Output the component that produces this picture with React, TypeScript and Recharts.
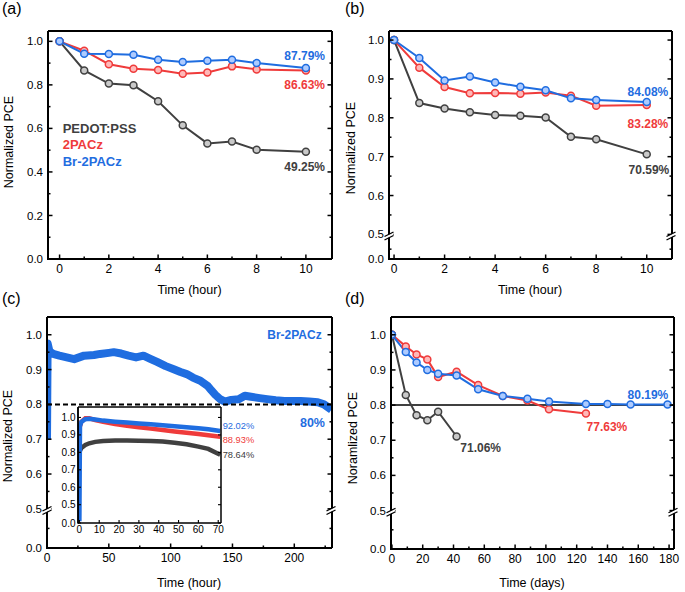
import React from 'react';
import { LineChart, Line, XAxis, YAxis, ReferenceLine } from 'recharts';

const FONT = '"Liberation Sans", Arial, Helvetica, sans-serif';
const GRAY = '#404040';
const RED = '#ef3b3b';
const BLUE = '#1f6de0';
const GRAY_L = '#c9c9c9';
const RED_L = '#ffb8b8';
const BLUE_L = '#aecbff';

// ---------- data ----------
const A_X = [0, 1, 2, 3, 4, 5, 6, 7, 8, 10];
const A_PEDOT = [1.0, 0.866, 0.806, 0.798, 0.725, 0.614, 0.531, 0.54, 0.502, 0.4925];
const A_2PACZ = [1.0, 0.957, 0.895, 0.874, 0.868, 0.851, 0.857, 0.885, 0.871, 0.8663];
const A_BR = [1.0, 0.943, 0.942, 0.938, 0.915, 0.905, 0.911, 0.915, 0.9, 0.8779];

const B_X = [0, 1, 2, 3, 4, 5, 6, 7, 8, 10];
const B_PEDOT = [1.0, 0.838, 0.824, 0.814, 0.807, 0.805, 0.801, 0.751, 0.745, 0.7059];
const B_2PACZ = [1.0, 0.929, 0.879, 0.863, 0.864, 0.862, 0.865, 0.857, 0.831, 0.8328];
const B_BR = [1.0, 0.954, 0.896, 0.906, 0.891, 0.88, 0.871, 0.85, 0.846, 0.8408];

const C_T = [0, 0.5, 2, 5, 10, 16, 22, 30, 38, 43, 50, 54, 60, 66, 72, 78, 84, 89, 96, 103, 108, 113, 118, 124, 130, 133, 136, 140, 144, 149, 155, 160, 165, 172, 178, 185, 192, 198, 205, 212, 219, 224, 228, 230];
const C_BR = [0.7, 0.975, 0.952, 0.945, 0.94, 0.935, 0.93, 0.94, 0.942, 0.945, 0.948, 0.95, 0.946, 0.94, 0.935, 0.94, 0.93, 0.922, 0.91, 0.9, 0.893, 0.887, 0.877, 0.868, 0.853, 0.84, 0.828, 0.815, 0.808, 0.813, 0.815, 0.825, 0.822, 0.818, 0.815, 0.812, 0.81, 0.81, 0.81, 0.808, 0.806, 0.8, 0.79, 0.785];

const IN_T = [0, 0.3, 1, 3, 5, 8, 12, 18, 24, 30, 36, 42, 48, 54, 60, 65, 71];
const IN_BR = [0.05, 0.95, 0.975, 0.99, 0.992, 0.988, 0.982, 0.976, 0.971, 0.966, 0.961, 0.955, 0.949, 0.944, 0.938, 0.932, 0.922];
const IN_2PACZ = [0.93, 0.95, 0.975, 0.995, 0.995, 0.985, 0.975, 0.962, 0.952, 0.944, 0.936, 0.928, 0.92, 0.913, 0.905, 0.898, 0.889];
const IN_PEDOT = [0.79, 0.81, 0.825, 0.842, 0.852, 0.86, 0.865, 0.868, 0.868, 0.867, 0.865, 0.862, 0.855, 0.846, 0.833, 0.82, 0.786];

const D_PEDOT_X = [0, 9, 16, 23, 30, 42];
const D_PEDOT = [1.0, 0.829, 0.771, 0.757, 0.781, 0.7106];
const D_2PACZ_X = [0, 9, 16, 23, 30, 42, 56, 72, 88, 102, 126];
const D_2PACZ = [1.0, 0.967, 0.944, 0.93, 0.88, 0.895, 0.857, 0.826, 0.813, 0.788, 0.7763];
const D_BR_X = [0, 9, 16, 23, 30, 42, 56, 72, 88, 102, 126, 140, 155, 179];
const D_BR = [1.0, 0.951, 0.921, 0.9, 0.889, 0.884, 0.845, 0.826, 0.818, 0.81, 0.803, 0.803, 0.802, 0.8019];

// tick values
const A_YTICKS = [0, 0.1, 0.2, 0.3, 0.4, 0.5, 0.6, 0.7, 0.8, 0.9, 1.0];
const A_YMAJ = [0, 0.2, 0.4, 0.6, 0.8, 1.0];
const HR_XTICKS = [0, 1, 2, 3, 4, 5, 6, 7, 8, 9, 10];
const HR_XMAJ = [0, 2, 4, 6, 8, 10];
const B_YTICKS = [0, 0.2, 0.5, 0.55, 0.6, 0.65, 0.7, 0.75, 0.8, 0.85, 0.9, 0.95, 1.0];
const BRK_YMAJ = [0, 0.5, 0.6, 0.7, 0.8, 0.9, 1.0];
const CD_YTICKS = [0, 0.25, 0.5, 0.55, 0.6, 0.65, 0.7, 0.75, 0.8, 0.85, 0.9, 0.95, 1.0];
const C_XTICKS = [0, 25, 50, 75, 100, 125, 150, 175, 200, 225];
const C_XMAJ = [0, 50, 100, 150, 200];
const D_XTICKS = [0, 10, 20, 30, 40, 50, 60, 70, 80, 90, 100, 110, 120, 130, 140, 150, 160, 170, 180];
const D_XMAJ = [0, 20, 40, 60, 80, 100, 120, 140, 160, 180];
const IN_YTICKS = [0, 0.5, 0.6, 0.7, 0.8, 0.9, 1.0];
const IN_XTICKS = [0, 10, 20, 30, 40, 50, 60, 70];

// ---------- broken axis transform ----------
const brk = (k: number) => (v: number) => (v >= 0.5 ? v : 0.5 - (0.5 - v) * k);
const unbrk = (k: number) => (t: number) => (t >= 0.5 ? t : 0.5 - (0.5 - t) / k);

type Geo = { dx: number; dy: number; w: number; h: number; l: number; r: number; t: number; b: number };
type Base = {
  geo: Geo; xDom: [number, number]; xTicks: number[]; xMaj: number[];
  yDom: [number, number]; yTicks: number[]; yMaj: number[]; k: number;
  fsX: number; fsY: number; xGap: number; yGap: number; majLen: number; minLen: number; lw: number; xh: number;
};
type Cfg = Base & { yT: number[]; tickL: (p: any) => any; tickR: (p: any) => any; tickX: (p: any) => any };

const near = (a: number[], v: number) => a.some((m) => Math.abs(m - v) < 1e-6);

const mkYTick = (side: 'left' | 'right', c: Base) => (p: any) => {
  let v = unbrk(c.k)(p.payload.value);
  if (Math.abs(v) < 1e-9) v = 0;
  const maj = near(c.yMaj, v);
  const len = maj ? c.majLen : c.minLen;
  const dir = side === 'left' ? 1 : -1;
  return (
    <g>
      <line x1={p.x} x2={p.x + dir * len} y1={p.y} y2={p.y} stroke="#000" strokeWidth={c.lw * 0.75} />
      {side === 'left' && maj ? (
        <text x={p.x - c.yGap} y={p.y} dy={c.fsY * 0.355} textAnchor="end" fontSize={c.fsY} fill="#000">
          {v.toFixed(1)}
        </text>
      ) : null}
    </g>
  );
};

const mkXTick = (c: Base) => (p: any) => {
  const v = p.payload.value;
  const maj = near(c.xMaj, v);
  const len = maj ? c.majLen : c.minLen;
  return (
    <g>
      <line x1={p.x} x2={p.x} y1={p.y} y2={p.y - len} stroke="#000" strokeWidth={c.lw * 0.75} />
      {maj ? (
        <text x={p.x} y={p.y + c.xGap} textAnchor="middle" fontSize={c.fsX} fill="#000">
          {String(v)}
        </text>
      ) : null}
    </g>
  );
};

const build = (b: Base): Cfg => ({
  ...b,
  yT: b.yTicks.map(brk(b.k)),
  tickL: mkYTick('left', b),
  tickR: mkYTick('right', b),
  tickX: mkXTick(b),
});

const base = { fsX: 12, fsY: 11.5, xGap: 13.5, yGap: 5, majLen: 4.5, minLen: 2.5, lw: 2, xh: 30 };

const CFG_A = build({
  ...base,
  geo: { dx: 0, dy: 0, w: 340, h: 300, l: 48, r: 331, t: 32, b: 259 },
  xDom: [-0.47, 11.06], xTicks: HR_XTICKS, xMaj: HR_XMAJ,
  yDom: [0, 1.0475], yTicks: A_YTICKS, yMaj: A_YMAJ, k: 1,
});
const CFG_B = build({
  ...base,
  geo: { dx: 340, dy: 0, w: 345, h: 300, l: 389, r: 671, t: 32, b: 259 },
  xDom: [-0.2, 11.0], xTicks: HR_XTICKS, xMaj: HR_XMAJ,
  yDom: [0.4367, 1.0233], yTicks: B_YTICKS, yMaj: BRK_YMAJ, k: 0.1266,
});
const CFG_C = build({
  ...base,
  geo: { dx: 0, dy: 290, w: 340, h: 302, l: 47, r: 331, t: 318, b: 548 },
  xDom: [0, 230.5], xTicks: C_XTICKS, xMaj: C_XMAJ,
  yDom: [0.3875, 1.051], yTicks: CD_YTICKS, yMaj: BRK_YMAJ, k: 0.225,
});
const CFG_D = build({
  ...base,
  geo: { dx: 340, dy: 290, w: 345, h: 302, l: 391, r: 673, t: 318, b: 549 },
  xDom: [-0.6, 183.2], xTicks: D_XTICKS, xMaj: D_XMAJ,
  yDom: [0.3906, 1.0506], yTicks: CD_YTICKS, yMaj: BRK_YMAJ, k: 0.219,
});
const CFG_IN = build({
  fsX: 10, fsY: 10, xGap: 10, yGap: 2.5, majLen: 3, minLen: 1.5, lw: 1.5, xh: 14,
  geo: { dx: 50, dy: 400, w: 180, h: 140, l: 78, r: 220, t: 408, b: 523 },
  xDom: [-0.7, 71.4], xTicks: IN_XTICKS, xMaj: IN_XTICKS,
  yDom: [0.395, 1.06], yTicks: IN_YTICKS, yMaj: IN_YTICKS, k: 0.21,
});

function Panel({ c, children }: { c: Cfg; children: React.ReactNode }) {
  const g = c.geo;
  return (
    <div style={{ position: 'absolute', left: g.dx, top: g.dy, width: g.w, height: g.h }}>
      <LineChart
        width={g.w}
        height={g.h}
        margin={{ top: g.t - g.dy - 1, right: g.dx + g.w - g.r - 1, bottom: g.dy + g.h - g.b - c.xh, left: 0 }}
      >
        <XAxis xAxisId="b" type="number" dataKey="x" domain={c.xDom} ticks={c.xTicks} interval={0}
          allowDataOverflow height={c.xh} tickSize={0} tickMargin={0} tickLine={false}
          tick={c.tickX} axisLine={{ stroke: '#000', strokeWidth: c.lw }} />
        <XAxis xAxisId="t" orientation="top" type="number" dataKey="x" domain={c.xDom} allowDataOverflow
          height={1} tick={false} tickLine={false} axisLine={{ stroke: '#000', strokeWidth: c.lw }} mirror />
        <YAxis yAxisId="l" type="number" domain={c.yDom} ticks={c.yT} interval={0} allowDataOverflow
          width={g.l - g.dx} tickSize={0} tickMargin={0} tickLine={false} tick={c.tickL}
          axisLine={{ stroke: '#000', strokeWidth: c.lw }} />
        <YAxis yAxisId="r" orientation="right" type="number" domain={c.yDom} ticks={c.yT} interval={0}
          allowDataOverflow width={1} tickSize={0} tickMargin={0} tickLine={false} mirror
          tick={c.tickR} axisLine={{ stroke: '#000', strokeWidth: c.lw }} />
        {children}
      </LineChart>
    </div>
  );
}

const pix = (c: Cfg, v: number) => {
  const t = brk(c.k)(v);
  return c.geo.t + ((c.yDom[1] - t) / (c.yDom[1] - c.yDom[0])) * (c.geo.b - c.geo.t);
};

function BreakMark({ x, y }: { x: number; y: number }) {
  return (
    <g>
      <polygon points={`${x - 4},${y + 3.5} ${x + 4},${y - 0.5} ${x + 4},${y - 3.5} ${x - 4},${y + 0.5}`} fill="#fff" />
      <line x1={x - 4.5} y1={y + 4} x2={x + 4.5} y2={y - 0.5} stroke="#000" strokeWidth={1.3} />
      <line x1={x - 4.5} y1={y + 0.5} x2={x + 4.5} y2={y - 4} stroke="#000" strokeWidth={1.3} />
    </g>
  );
}

const tbl = (xs: number[], k: number, cols: Record<string, number[]>) =>
  xs.map((x, i) => {
    const row: Record<string, number> = { x };
    Object.keys(cols).forEach((key) => (row[key] = brk(k)(cols[key][i])));
    return row;
  });
const pts = (xs: number[], ys: number[], k: number) => xs.map((x, i) => ({ x, v: brk(k)(ys[i]) }));

const dot = (col: string, light: string) => ({ r: 3.5, fill: light, stroke: col, strokeWidth: 1.5 });

const dataA = tbl(A_X, CFG_A.k, { pedot: A_PEDOT, pacz: A_2PACZ, br: A_BR });
const dataB = tbl(B_X, CFG_B.k, { pedot: B_PEDOT, pacz: B_2PACZ, br: B_BR });
const dataC = pts(C_T, C_BR, CFG_C.k);
const dataIn = tbl(IN_T, CFG_IN.k, { pedot: IN_PEDOT, pacz: IN_2PACZ, br: IN_BR });
const dPedot = pts(D_PEDOT_X, D_PEDOT, CFG_D.k);
const d2pacz = pts(D_2PACZ_X, D_2PACZ, CFG_D.k);
const dBr = pts(D_BR_X, D_BR, CFG_D.k);

export default function App() {
  const ax = { xAxisId: 'b', yAxisId: 'l', isAnimationActive: false, activeDot: false } as const;
  const bold = { fontWeight: 700, fontSize: 12 };
  const title = { fontSize: 12.5, fill: '#000' };
  const frames = [CFG_A, CFG_B, CFG_C, CFG_D, CFG_IN];

  return (
    <div style={{ position: 'absolute', left: 0, top: 0, width: 685, height: 592, background: '#fff', fontFamily: FONT }}>
      <Panel c={CFG_A}>
        <Line {...ax} data={dataA} dataKey="pedot" stroke={GRAY} strokeWidth={2} dot={dot(GRAY, GRAY_L)} />
        <Line {...ax} data={dataA} dataKey="pacz" stroke={RED} strokeWidth={2} dot={dot(RED, RED_L)} />
        <Line {...ax} data={dataA} dataKey="br" stroke={BLUE} strokeWidth={2} dot={dot(BLUE, BLUE_L)} />
      </Panel>
      <Panel c={CFG_B}>
        <Line {...ax} data={dataB} dataKey="pedot" stroke={GRAY} strokeWidth={2} dot={dot(GRAY, GRAY_L)} />
        <Line {...ax} data={dataB} dataKey="pacz" stroke={RED} strokeWidth={2} dot={dot(RED, RED_L)} />
        <Line {...ax} data={dataB} dataKey="br" stroke={BLUE} strokeWidth={2} dot={dot(BLUE, BLUE_L)} />
      </Panel>
      <Panel c={CFG_C}>
        <Line {...ax} data={dataC} dataKey="v" stroke={BLUE} strokeWidth={8} strokeLinejoin="round" dot={false} />
        <ReferenceLine xAxisId="b" yAxisId="l" y={0.8} stroke="#000" strokeWidth={2} strokeDasharray="5 3" />
      </Panel>
      <div style={{ position: 'absolute', left: 78, top: 408, width: 142, height: 115, background: '#fff' }} />
      <Panel c={CFG_IN}>
        <Line {...ax} data={dataIn} dataKey="pedot" stroke={GRAY} strokeWidth={4.5} dot={false} />
        <Line {...ax} data={dataIn} dataKey="pacz" stroke={RED} strokeWidth={4.5} dot={false} />
        <Line {...ax} data={dataIn} dataKey="br" stroke={BLUE} strokeWidth={4.5} dot={false} />
      </Panel>
      <Panel c={CFG_D}>
        <ReferenceLine xAxisId="b" yAxisId="l" y={0.8} stroke="#000" strokeWidth={1.5} />
        <Line {...ax} data={dPedot} dataKey="v" stroke={GRAY} strokeWidth={2} dot={dot(GRAY, GRAY_L)} />
        <Line {...ax} data={d2pacz} dataKey="v" stroke={RED} strokeWidth={2} dot={dot(RED, RED_L)} />
        <Line {...ax} data={dBr} dataKey="v" stroke={BLUE} strokeWidth={2} dot={dot(BLUE, BLUE_L)} />
      </Panel>

      <svg width={685} height={592} style={{ position: 'absolute', left: 0, top: 0, pointerEvents: 'none' }}>
        {/* plot frames */}
        {frames.map((c, i) => (
          <line key={'f' + i} x1={c.geo.l} x2={c.geo.l} y1={c.geo.t - c.lw / 2} y2={c.geo.b + c.lw / 2}
            stroke="#000" strokeWidth={c.lw} />
        ))}

        <text x={2} y={14} fontSize={16} fill="#000">(a)</text>
        <text x={345} y={14} fontSize={16} fill="#000">(b)</text>
        <text x={2} y={304} fontSize={16} fill="#000">(c)</text>
        <text x={345} y={304} fontSize={16} fill="#000">(d)</text>

        <text x={189.5} y={294} textAnchor="middle" {...title}>Time (hour)</text>
        <text x={530} y={294} textAnchor="middle" {...title}>Time (hour)</text>
        <text x={189} y={586.5} textAnchor="middle" {...title}>Time (hour)</text>
        <text x={532} y={586.5} textAnchor="middle" {...title}>Time (days)</text>
        <text x={12.7} y={142} textAnchor="middle" transform="rotate(-90 12.7 142)" {...title}>Normalized PCE</text>
        <text x={355} y={148} textAnchor="middle" transform="rotate(-90 355 148)" {...title}>Normalized PCE</text>
        <text x={11.7} y={436} textAnchor="middle" transform="rotate(-90 11.7 436)" {...title}>Normalized PCE</text>
        <text x={356.7} y={438} textAnchor="middle" transform="rotate(-90 356.7 438)" {...title}>Noramlized PCE</text>

        <text x={62.7} y={132.7} fill={GRAY} fontWeight={700} fontSize={13}>PEDOT:PSS</text>
        <text x={62.7} y={149.3} fill={RED} fontWeight={700} fontSize={13}>2PACz</text>
        <text x={62.7} y={166} fill={BLUE} fontWeight={700} fontSize={13}>Br-2PACz</text>
        <text x={325} y={60.3} textAnchor="end" fill={BLUE} {...bold}>87.79%</text>
        <text x={325} y={89.3} textAnchor="end" fill={RED} {...bold}>86.63%</text>
        <text x={325} y={171} textAnchor="end" fill={GRAY} {...bold}>49.25%</text>

        <text x={668.3} y={96.3} textAnchor="end" fill={BLUE} {...bold}>84.08%</text>
        <text x={668.3} y={127.5} textAnchor="end" fill={RED} {...bold}>83.28%</text>
        <text x={669.3} y={173.8} textAnchor="end" fill={GRAY} {...bold}>70.59%</text>

        <text x={321.7} y={338.5} textAnchor="end" fill={BLUE} {...bold}>Br-2PACz</text>
        <text x={325} y={427} textAnchor="end" fill={BLUE} fontWeight={700} fontSize={12.5}>80%</text>
        <text x={222.7} y={428.9} fill={BLUE} fontSize={9.3}>92.02%</text>
        <text x={222.7} y={443.4} fill={RED} fontSize={9.3}>88.93%</text>
        <text x={222.7} y={458.4} fill={GRAY} fontSize={9.3}>78.64%</text>

        <text x={668.3} y={398.8} textAnchor="end" fill={BLUE} {...bold}>80.19%</text>
        <text x={627.3} y={431.3} textAnchor="end" fill={RED} {...bold}>77.63%</text>
        <text x={501} y={452.3} textAnchor="end" fill={GRAY} {...bold}>71.06%</text>

        {[CFG_B, CFG_C, CFG_D].map((c, i) => (
          <g key={i}>
            <BreakMark x={c.geo.l} y={pix(c, 0.5) + 1.5} />
            <BreakMark x={c.geo.r} y={pix(c, 0.5) + 1.5} />
          </g>
        ))}
      </svg>
    </div>
  );
}
